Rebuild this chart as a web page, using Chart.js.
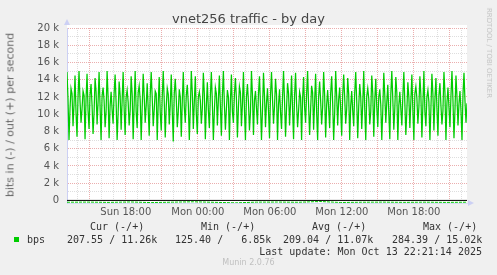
<!DOCTYPE html>
<html>
<head>
<meta charset="utf-8">
<script src="https://cdn.jsdelivr.net/npm/chart.js@4/dist/chart.umd.min.js"></script>
<style>
  html, body { margin: 0; padding: 0; background: #f0f0f0; }
  #wrap { position: relative; width: 497px; height: 275px; overflow: hidden; }
  #wrap canvas { position: absolute; left: 0; top: 0; }
  .t { position: absolute; white-space: pre; line-height: 12px; }
  .mono { font: 10px "DejaVu Sans Mono", monospace; color: #333; }
</style>
</head>
<body>
<div id="wrap">
  <canvas id="munin" width="497" height="275"></canvas>
  <div class="t" style="left:0;width:497px;text-align:center;top:11px;font:13px 'DejaVu Sans';color:#444;line-height:16px">vnet256 traffic - by day</div>
  <div class="t" style="left:10px;top:115px;font:11px 'DejaVu Sans';color:#666;transform:translate(-50%,-50%) rotate(-90deg)">bits in (-) / out (+) per second</div>
  <div class="t" style="left:489px;top:53px;font:7px 'DejaVu Sans';color:#c4c4c4;transform:translate(-50%,-50%) rotate(90deg)">RRDTOOL / TOBI OETIKER</div>

  <div class="t mono" style="left:90px;top:221px">Cur (-/+)</div>
  <div class="t mono" style="left:201px;top:221px">Min (-/+)</div>
  <div class="t mono" style="left:312px;top:221px">Avg (-/+)</div>
  <div class="t mono" style="left:423px;top:221px">Max (-/+)</div>

  <div style="position:absolute;left:14px;top:237px;width:5px;height:5px;background:#00cc00"></div>
  <div class="t mono" style="left:27px;top:234px">bps</div>
  <div class="t mono" style="left:67px;top:234px">207.55 / 11.26k</div>
  <div class="t mono" style="left:175px;top:234px">125.40 /   6.85k</div>
  <div class="t mono" style="left:283px;top:234px">209.04 / 11.07k</div>
  <div class="t mono" style="left:392px;top:234px">284.39 / 15.02k</div>

  <div class="t mono" style="right:15px;top:246px">Last update: Mon Oct 13 22:21:14 2025</div>
  <div class="t" style="left:0;width:497px;text-align:center;top:258px;font:8px 'DejaVu Sans';color:#c0c0c0;line-height:10px">Munin 2.0.76</div>
</div>

<script>
// time window in hours since Sun 00:00 (5 min per sample, ~33h)
var startHour = 13.1;
var endHour = 46.43;

// out (+) traffic, bps
var outBps = [
  14900,11800,7000,10600, 13000,12400,8600,11100, 14500,10200,7400,12000, 15000,11500,9000,10600, 12700,12200,7100,11800,
  14700,10400,8300,12300, 13500,11000,7700,10200, 14200,12600,8800,11400, 14900,10800,7000,12100, 13100,11600,8500,10300,
  15000,12000,7200,11000, 12600,10500,8900,12400, 14600,11300,7000,10100, 13800,12200,8200,11600, 14900,10700,7600,12000,
  12800,11400,8700,10400, 14400,12300,7100,11200, 15000,10300,8400,12500, 13300,11700,7000,10800, 14700,12100,9000,11000,
  13600,10600,7500,12200, 14900,11900,8600,10500, 12700,12400,7000,11300, 14300,10200,8100,12000, 15000,11500,7300,10900,
  13000,12300,8800,11100, 14600,10400,6850,12400, 14100,11800,8500,10300, 12900,12000,7400,11500, 14900,10800,9000,12200,
  13400,11200,7000,10600, 15000,12500,8300,11400, 14400,10100,7700,12000, 12600,11600,8900,10700, 14800,12300,7100,11000,
  13700,10500,8400,12100, 14900,11300,7000,10400, 13100,12400,8700,11700, 14500,10900,7500,12200, 15000,11100,8200,10600,
  12800,12000,7000,11500, 14600,10300,9000,12300, 14200,11800,7300,10800, 13200,12500,8600,11200, 14900,10600,7000,12000,
  13500,11400,8100,10200, 15000,12200,7600,11600, 12700,10700,8800,12400, 14400,11000,7000,10500, 14800,12100,8500,11300,
  13000,10400,7200,12200, 14900,11700,8900,10900, 14100,12300,7000,11100, 12900,10200,8300,12000, 15000,11500,7400,10700,
  13600,12400,8700,11300, 14500,10600,7100,12100, 14800,11200,8500,10400, 12600,12000,7000,11800, 14300,10800,9000,12300,
  15000,11000,7600,10500, 13300,12500,8200,11400, 14700,10300,7000,12000, 13800,11600,8800,10800, 14900,12200,7300,11100,
  12800,10700,8400,12400, 14400,11300,7000,10200, 15000,12100,8700,11700, 13100,10500,7500,12200, 14600,11900,8900,10600,
  14200,12300,7000,11000, 12700,10400,8600,12500, 14900,11500,7200,10900, 13500,12000,8300,11200, 15000,10600,7000,12100,
  13000,11800,8800,10300, 14500,12400,7400,11600, 14100,10800,8500,12000, 12900,11100,7000,10500, 14800,12200,9000,11400,
  13400,10200,7100,12300, 15000,11700,8200,10700, 14300,12500,7000,11000, 12600,10600,8700,12100, 14900,11300,7600,10400,
  13700,12000,8400,11500, 14600,10500,7000,12400, 13200,11900,8900,10800, 14400,12200,7300,11100, 15020,10300,8600,12000,
  12800,11400,7000,10600, 14700,12300,8100,11700, 14200,10700,7500,12200, 13600,11000,8800,10400, 14900,12500,7000,11300,
  13100,10800,8500,12100, 15000,11600,7200,10500, 14500,12000,8700,11200, 12700,10400,7000,12300, 14800,11500,9000,11260
];

// in (-) traffic, bps (drawn below zero)
var inBps = [210, 195, 230, 180, 250, 205, 160, 220, 284, 200, 190, 215, 125, 240, 210, 198, 225, 205, 230, 208];

var dayNames = ['Sun', 'Mon'];

function spread(arr, sign) {
  var step = (endHour - startHour) / (arr.length - 1);
  return arr.map(function (v, i) { return { x: startHour + i * step, y: sign * v }; });
}

var gridGray = '#dedede';
var gridRed = 'rgba(232,160,160,0.85)';

var bgPlugin = {
  id: 'bg',
  beforeDraw: function (chart) {
    var c = chart.ctx, a = chart.chartArea;
    c.save();
    c.fillStyle = '#f0f0f0';
    c.fillRect(0, 0, chart.width, chart.height);
    c.fillStyle = '#ffffff';
    c.fillRect(a.left, a.top - 3, a.right - a.left, a.bottom - a.top + 3);
    c.restore();
  },
  afterDraw: function (chart) {
    var c = chart.ctx, a = chart.chartArea;
    c.save();
    c.fillStyle = '#ccd0f4';
    // y arrow
    c.beginPath();
    c.moveTo(a.left - 3, a.top - 3);
    c.lineTo(a.left + 3, a.top - 3);
    c.lineTo(a.left, a.top - 9);
    c.fill();
    // x arrow
    c.beginPath();
    c.moveTo(a.right + 1, a.bottom - 3);
    c.lineTo(a.right + 1, a.bottom + 3);
    c.lineTo(a.right + 7, a.bottom);
    c.fill();
    c.restore();
  }
};

new Chart(document.getElementById('munin'), {
  type: 'line',
  data: {
    datasets: [
      {
        label: 'zero',
        data: [{ x: startHour, y: 0 }, { x: endHour, y: 0 }],
        borderColor: '#000000',
        borderWidth: 1,
        pointRadius: 0,
        order: 0
      },
      {
        label: 'in',
        data: spread(inBps, -1),
        borderColor: '#00cc00',
        borderWidth: 1,
        borderDash: [3, 1],
        pointRadius: 0,
        order: 1
      },
      {
        label: 'out',
        data: spread(outBps, 1),
        borderColor: '#00cc00',
        borderWidth: 1.25,
        pointRadius: 0,
        order: 1
      }
    ]
  },
  options: {
    responsive: false,
    animation: false,
    events: [],
    layout: { padding: { top: 28, right: 30, left: 0, bottom: 0 } },
    plugins: { legend: { display: false }, tooltip: { enabled: false } },
    scales: {
      x: {
        type: 'linear',
        min: startHour,
        max: endHour,
        afterBuildTicks: function (s) {
          var t = [];
          for (var h = 14; h <= 46; h++) t.push({ value: h });
          s.ticks = t;
        },
        afterFit: function (s) { s.height = 72; },
        ticks: {
          autoSkip: false,
          maxRotation: 0,
          padding: 3,
          color: '#555',
          font: { family: 'DejaVu Sans', size: 10 },
          callback: function (v) {
            if (v % 6 !== 0) return '';
            var hh = v % 24;
            return dayNames[Math.floor(v / 24)] + ' ' + (hh < 10 ? '0' : '') + hh + ':00';
          }
        },
        grid: {
          drawTicks: false,
          color: function (ctx) { return ctx.tick && ctx.tick.value % 3 === 0 ? gridRed : gridGray; }
        },
        border: { color: '#d8dcf4', dash: [1, 1] }
      },
      y: {
        min: -300,
        max: 20000,
        afterBuildTicks: function (s) {
          var t = [];
          for (var v = 0; v <= 20000; v += 1000) t.push({ value: v });
          s.ticks = t;
        },
        afterFit: function (s) { s.width = 67; },
        ticks: {
          autoSkip: false,
          padding: 8,
          color: '#555',
          font: { family: 'DejaVu Sans', size: 10 },
          callback: function (v) {
            if (v % 2000 !== 0) return '';
            return v === 0 ? '0' : (v / 1000) + ' k';
          }
        },
        grid: {
          drawTicks: false,
          color: function (ctx) { return ctx.tick && ctx.tick.value % 2000 === 0 ? gridRed : gridGray; }
        },
        border: { color: '#ccd0f4', dash: [1, 1] }
      }
    }
  },
  plugins: [bgPlugin]
});
</script>
</body>
</html>
